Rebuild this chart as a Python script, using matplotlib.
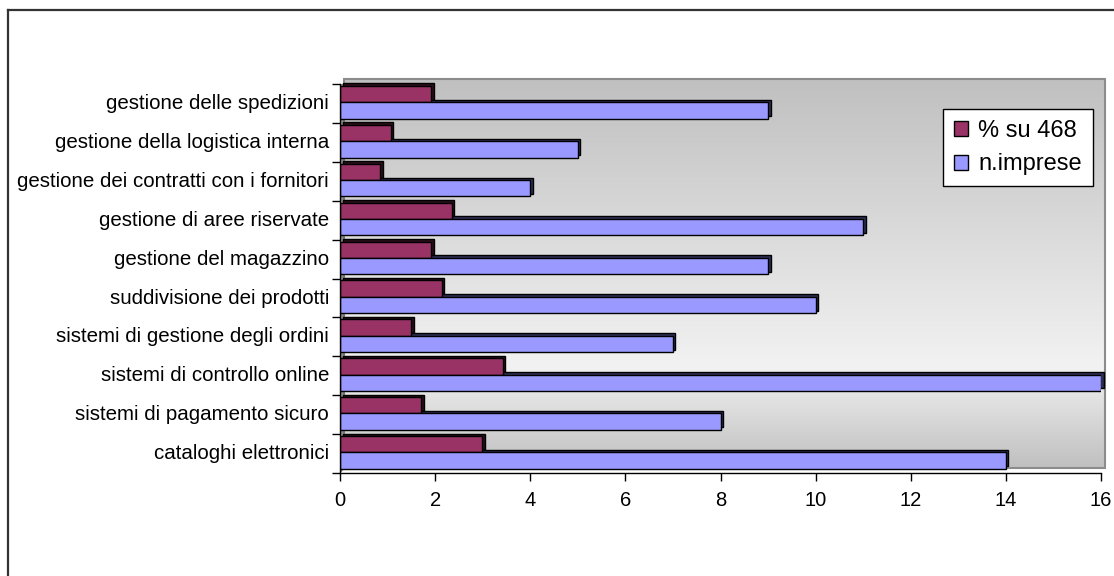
import numpy as np
import matplotlib
matplotlib.use("Agg")
import matplotlib.pyplot as plt
from matplotlib.patches import Rectangle, Polygon
from matplotlib.lines import Line2D
from matplotlib.transforms import ScaledTranslation
from matplotlib.colors import LinearSegmentedColormap

plt.rcParams['font.family'] = ['Liberation Sans', 'DejaVu Sans']

# categories listed bottom to top
categories = [
    "cataloghi elettronici",
    "sistemi di pagamento sicuro",
    "sistemi di controllo online",
    "sistemi di gestione degli ordini",
    "suddivisione dei prodotti",
    "gestione del magazzino",
    "gestione di aree riservate",
    "gestione dei contratti con i fornitori",
    "gestione della logistica interna",
    "gestione delle spedizioni",
]
n_imprese = [14, 8, 16, 7, 10, 9, 11, 4, 5, 9]
pct_su_468 = [2.99, 1.71, 3.42, 1.50, 2.14, 1.92, 2.35, 0.85, 1.07, 1.92]
x_ticks = [0, 2, 4, 6, 8, 10, 12, 14, 16]

W, H, DPI = 1114, 576, 100
fig = plt.figure(figsize=(W / DPI, H / DPI), dpi=DPI)
fig.patch.set_facecolor("white")

def fx(px):
    return px / W

def fy(py):
    return 1 - py / H

# outer chart frame (left and top edges)
fig.add_artist(Line2D([fx(8), fx(8)], [0, fy(10)], color="#333333", lw=1.6))
fig.add_artist(Line2D([fx(8), 1], [fy(10), fy(10)], color="#333333", lw=1.6))

ax_l, ax_r, ax_t, ax_b = 340, 1101, 84, 473
ax = fig.add_axes([fx(ax_l), fy(ax_b), fx(ax_r - ax_l), (ax_b - ax_t) / H])
ax.set_facecolor("none")
ax.set_xlim(0, 16)
ax.set_ylim(-0.5, len(categories) - 0.5)

depth = ScaledTranslation(4 / DPI, 5 / DPI, fig.dpi_scale_trans)

# back wall with a vertical gradient
wall_cmap = LinearSegmentedColormap.from_list(
    "wall", [(0.0, "#c0c0c0"), (0.74, "#f2f2f2"), (1.0, "#c0c0c0")])
grad = np.linspace(0, 1, 256).reshape(-1, 1)
ax.imshow(grad, cmap=wall_cmap, extent=[0, 1, 0, 1], origin="upper",
          aspect="auto", transform=ax.transAxes + depth, zorder=0,
          clip_on=False, interpolation="bilinear")
ax.add_patch(Rectangle((0, 0), 1, 1, transform=ax.transAxes + depth,
                       fill=False, edgecolor="#8c8c8c", lw=1.5,
                       clip_on=False, zorder=0.5))

# left floor strip
floor = Polygon([[fx(ax_l), fy(ax_b)], [fx(ax_l), fy(ax_t)],
                 [fx(ax_l + 4), fy(ax_t - 5)], [fx(ax_l + 4), fy(ax_b - 5)]],
                closed=True, transform=fig.transFigure,
                facecolor="#8a8a8a", edgecolor="#606060", lw=0.6, zorder=0.6)
ax.add_artist(floor)

y = np.arange(len(categories))
bar_h = 0.42
maroon, blue = "#993366", "#9999ff"
maroon_dk, blue_dk = "#2a0f1c", "#2e2e55"
ext = ScaledTranslation(2.5 / DPI, 2.5 / DPI, fig.dpi_scale_trans)

# extruded faces first, fronts on top
for vals, off, col in [(pct_su_468, 0.24, maroon_dk), (n_imprese, -0.18, blue_dk)]:
    bb = ax.barh(y + off, vals, height=bar_h, color=col, edgecolor="black",
                 lw=1.0, zorder=2)
    for p in bb.patches:
        p.set_transform(ax.transData + ext)
        p.set_clip_on(False)
ax.barh(y + 0.24, pct_su_468, height=bar_h, color=maroon, edgecolor="black",
        lw=1.0, zorder=3, label="% su 468")
ax.barh(y - 0.18, n_imprese, height=bar_h, color=blue, edgecolor="black",
        lw=1.0, zorder=3, label="n.imprese")

# axes styling
for s in ["top", "right"]:
    ax.spines[s].set_visible(False)
for s in ["left", "bottom"]:
    ax.spines[s].set_color("black")
    ax.spines[s].set_linewidth(1.0)
    ax.spines[s].set_zorder(4)

ax.set_yticks(y + 0.05)
ax.set_yticklabels(categories, fontsize=14.8)
ax.tick_params(axis="y", which="major", length=0, pad=8)
ax.set_yticks(np.arange(-0.5, len(categories), 1), minor=True)
ax.tick_params(axis="y", which="minor", length=6, width=1, color="black")

ax.set_xticks(x_ticks)
ax.set_xticklabels([str(v) for v in x_ticks], fontsize=14.5)
ax.tick_params(axis="x", length=6, width=1, color="black", pad=7)

# legend
handles = [Rectangle((0, 0), 1, 1, facecolor=maroon, edgecolor="black", lw=1),
           Rectangle((0, 0), 1, 1, facecolor=blue, edgecolor="black", lw=1)]
leg = fig.legend(handles, ["% su 468", "n.imprese"], loc="upper left",
                 bbox_to_anchor=(fx(943), fy(109)), fontsize=17,
                 frameon=True, fancybox=False, shadow=False,
                 handlelength=0.6, handleheight=0.6, handletextpad=0.45,
                 labelspacing=0.5, borderpad=0.45, borderaxespad=0)
leg.get_frame().set_edgecolor("black")
leg.get_frame().set_linewidth(1.0)
leg.get_frame().set_facecolor("white")
leg.get_frame().set_alpha(1)

fig.savefig("out.png", dpi=DPI)
